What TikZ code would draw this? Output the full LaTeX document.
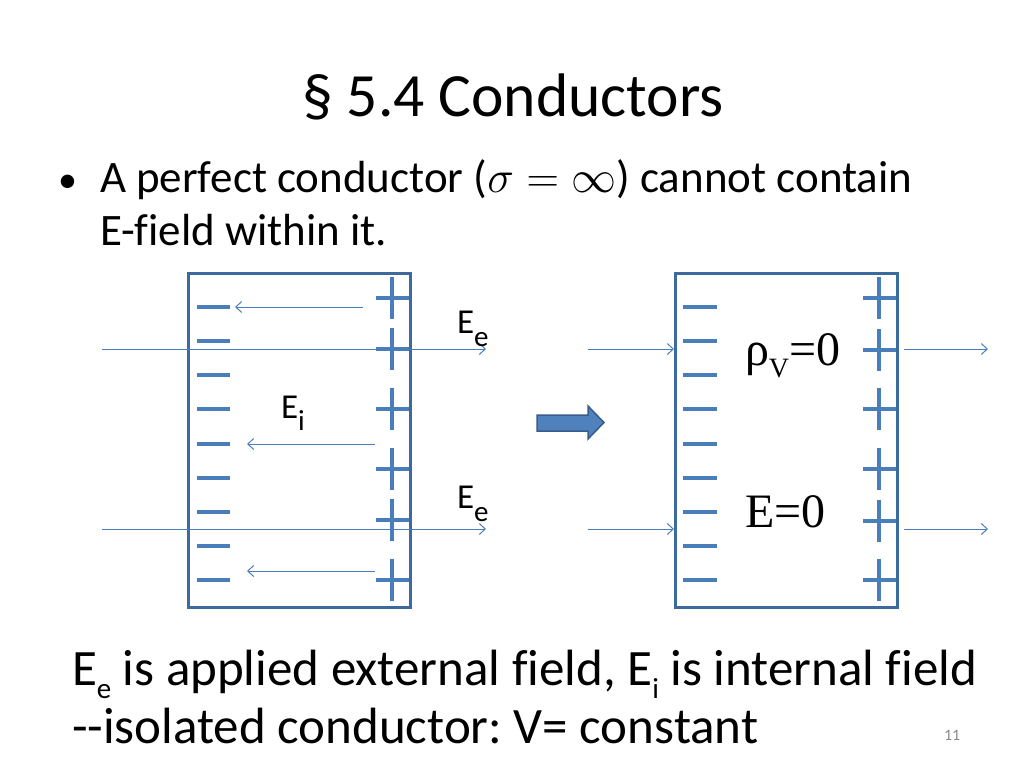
\documentclass[tikz,border=0pt]{standalone}
\usepackage{fix-cm}
\usepackage{fontspec}
\setmainfont[Ligatures={NoCommon}]{Carlito}
\newfontfamily\timesf{Liberation Serif}
\usetikzlibrary{arrows.meta}
\definecolor{chg}{HTML}{4A7EBB}
\definecolor{boxc}{HTML}{3C6A9C}
\definecolor{fatfill}{HTML}{4F81BD}
\definecolor{fatdraw}{HTML}{385D8A}
\definecolor{pgnum}{HTML}{8C8C8C}
\newcommand{\lowsub}[3]{\raisebox{-#1pt}{\fontsize{#2}{#2}\selectfont #3}}
\frenchspacing
\tikzset{
  txt/.style={inner sep=0pt, outer sep=0pt, anchor=base west},
  conductor/.style={draw=boxc, line width=2.6pt, inner sep=0pt, minimum width=222pt, minimum height=334pt, anchor=north west},
  minus/.style={draw=chg, line width=4pt},
  plus/.style={draw=chg, line width=4pt},
  field/.style={draw=chg, line width=1pt, -{Straight Barb[length=6pt,width=11pt,line width=1pt]}},
  fatarrow/.style={fill=fatfill, draw=fatdraw, line width=1.5pt, line join=miter},
}
\begin{document}
\begin{tikzpicture}[x=1pt,y=-1pt]
\useasboundingbox (0,0) rectangle (1024,768);
\fill[white] (0,0) rectangle (1024,768);

% title and bullet
\node[txt, anchor=base] (title) at (513,116) {\fontsize{61.5}{72}\selectfont § 5.4 Conductors};
\node[txt] (bullet) at (58,192) {\fontsize{38}{54}\selectfont •};
\node[txt] (b1) at (100,192) {\fontsize{45}{54}\selectfont A perfect conductor (\(\sigma = \infty\)) cannot contain};
\node[txt] (b2) at (100,245) {\fontsize{45}{54}\selectfont E-field within it.};

% left conductor
\node[conductor] (lbox) at (187,272) {};
\foreach \k in {0,...,8} {
  \draw[minus] (197,307+34.125*\k) -- (230,307+34.125*\k);
}
\foreach \y in {298,349,409,469,520,580} {
  \draw[plus] (376,\y) -- (409,\y);
  \draw[plus] (392,\y-21) -- (392,\y+21);
}
\coordinate (la1) at (102,349);
\coordinate (lb1) at (486,349);
\coordinate (la2) at (102,529);
\coordinate (lb2) at (486,529);
\draw[field] (la1) -- (lb1);
\draw[field] (la2) -- (lb2);
\coordinate (i1s) at (363,307);
\coordinate (i1e) at (235,307);
\coordinate (i2s) at (375,444);
\coordinate (i2e) at (247,444);
\coordinate (i3s) at (375,571);
\coordinate (i3e) at (247,571);
\draw[field] (i1s) -- (i1e);
\draw[field] (i2s) -- (i2e);
\draw[field] (i3s) -- (i3e);
\node[txt] (ee1) at (457,333) {\fontsize{35}{40}\selectfont E\lowsub{13}{29}{e}};
\node[txt] (ee2) at (457,508) {\fontsize{35}{40}\selectfont E\lowsub{13}{29}{e}};
\node[txt] (ei) at (281,418) {\fontsize{35}{40}\selectfont E\lowsub{12}{29}{i}};

% transformation arrow
\draw[fatarrow] (537,415) -- (588,415) -- (588,406) -- (604,422.5) -- (588,439) -- (588,431) -- (537,431) -- cycle;

% right conductor
\node[conductor] (rbox) at (674,272) {};
\foreach \k in {0,...,8} {
  \draw[minus] (683,307+34.125*\k) -- (717,307+34.125*\k);
}
\foreach \y in {298,350,409,469,521,580} {
  \draw[plus] (863,\y) -- (896,\y);
  \draw[plus] (879,\y-21) -- (879,\y+21);
}
\coordinate (ra1) at (588,349);
\coordinate (ra2) at (588,529);
\coordinate (rc1) at (904,349);
\coordinate (rd1) at (988,349);
\coordinate (rc2) at (904,529);
\coordinate (rd2) at (988,529);
\draw[field] (ra1) -- (rbox.west |- ra1);
\draw[field] (ra2) -- (rbox.west |- ra2);
\draw[field] (rc1) -- (rd1);
\draw[field] (rc2) -- (rd2);
\node[txt] (rho) at (745,365) {\timesf\fontsize{48}{52}\selectfont ρ\lowsub{12}{28}{V}=0};
\node[txt] (ezero) at (745,527) {\timesf\fontsize{48}{52}\selectfont E=0};

% bottom text
\node[txt] (c1) at (72,685) {\fontsize{51}{60}\selectfont E\lowsub{13}{29}{e} is applied external field, E\lowsub{13}{29}{i} is internal field};
\node[txt] (c2) at (72,743) {\fontsize{51}{60}\selectfont -{}-isolated conductor: V= constant};
\node[txt] (pg) at (944,740) {\color{pgnum}\fontsize{16}{18}\selectfont 11};
\end{tikzpicture}
\end{document}
